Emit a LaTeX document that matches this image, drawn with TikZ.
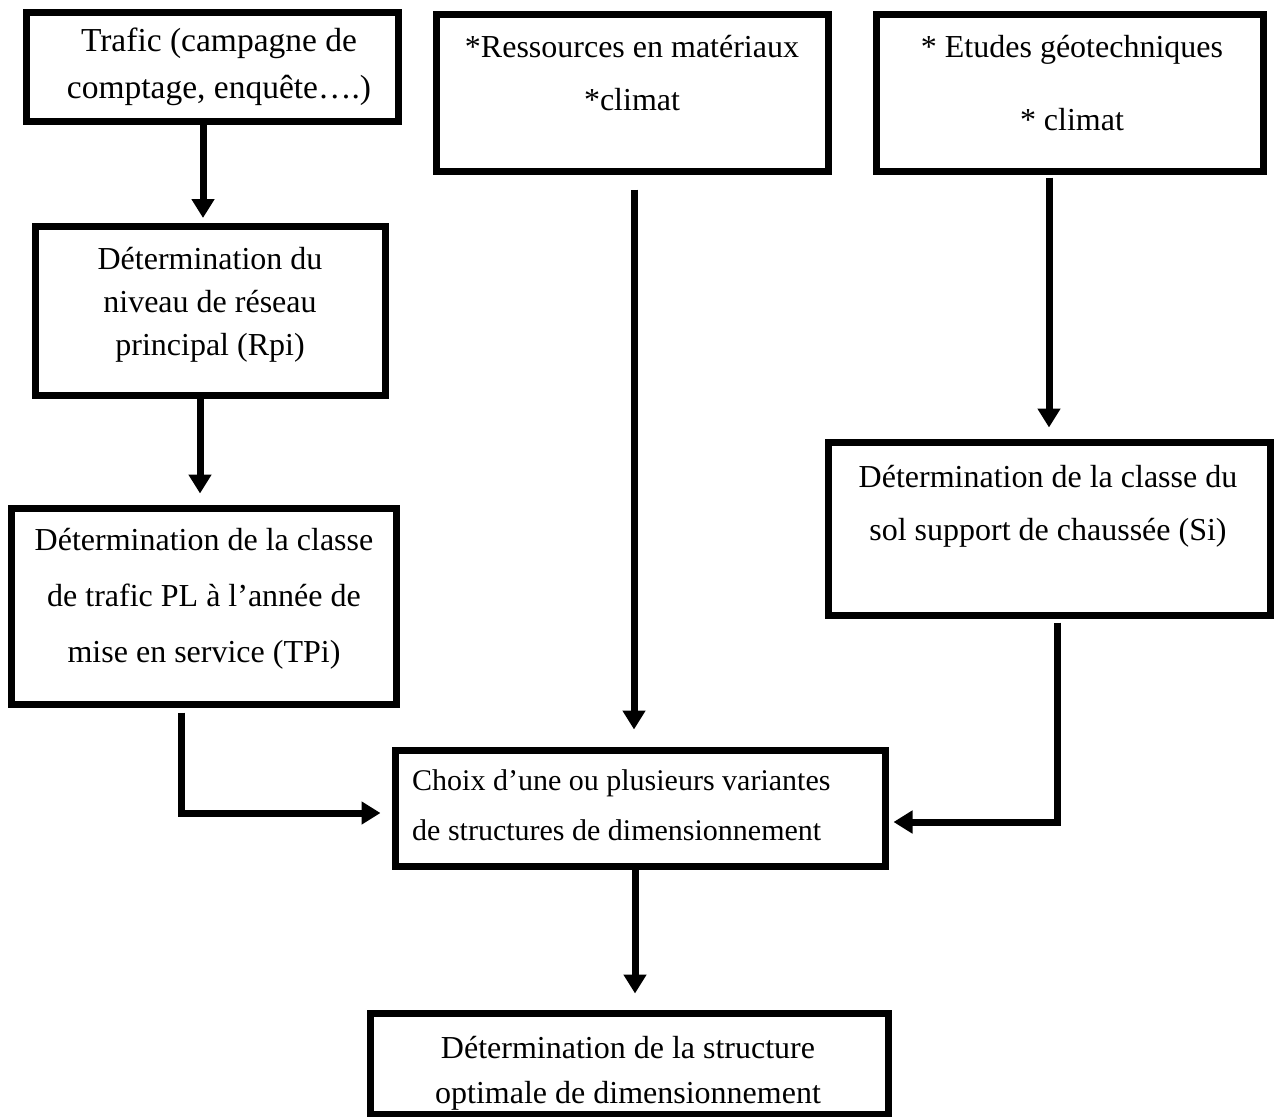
\documentclass[tikz,border=0pt]{standalone}
\usepackage{fontspec}
\setmainfont{Liberation Serif}
\usetikzlibrary{arrows.meta,fit}
\begin{document}
\begin{tikzpicture}[x=1pt,y=-1pt,
  box/.style={draw, line width=7pt, inner sep=0pt, line join=miter},
  txt/.style={anchor=base, align=center, inner sep=0pt, font=\fontsize{32}{#1}\selectfont},
  arr/.style={line width=7pt, line join=miter, -{Triangle[width=22pt,length=19pt]}}]
\useasboundingbox (0,0) rectangle (1278,1117);
% boxes
\node[box, fit={(26,12) (398,121)}] (trafic) {};
\node[box, fit={(436,14) (828,171)}] (ress) {};
\node[box, fit={(876,14) (1263,171)}] (etud) {};
\node[box, fit={(35,226) (385,395)}] (niv) {};
\node[box, fit={(11,508) (396,704)}] (cltr) {};
\node[box, fit={(828,442) (1270,615)}] (sol) {};
\node[box, fit={(395,750) (885,866)}] (choix) {};
\node[box, fit={(370,1013) (888,1114)}] (final) {};
% texts (y = baseline of the last line)
\node[anchor=base, align=center, inner sep=0pt, font=\fontsize{33.5}{47}\selectfont] (trafic-t) at (219,98) {Trafic (campagne de\\comptage, enquête….)};
\node[txt=53] (ress-t) at (632,110) {*Ressources en matériaux\\*climat};
\node[txt=73] (etud-t) at (1072,130) {* Etudes géotechniques\\* climat};
\node[txt=43] (niv-t) at (210,355) {Détermination du\\niveau de réseau\\principal (Rpi)};
\node[txt=56] (cltr-t) at (204,662) {Détermination de la classe\\de trafic PL à l’année de\\mise en service (TPi)};
\node[txt=53] (sol-t) at (1048,540) {Détermination de la classe du\\sol support de chaussée (Si)};
\node[anchor=base west, align=left, inner sep=0pt, font=\fontsize{30}{50}\selectfont] (choix-t) at (412,840) {Choix d’une ou plusieurs variantes\\de structures de dimensionnement};
\node[txt=45] (final-t) at (628,1103) {Détermination de la structure\\optimale de dimensionnement};
% helper coordinates
\coordinate (c1) at (203,0);
\coordinate (c2) at (200,0);
\coordinate (c3) at (634,0);
\coordinate (c4) at (1049,0);
\coordinate (c5) at (181,0);
\coordinate (r5) at (0,813);
\coordinate (c6) at (1057,0);
\coordinate (r6) at (0,822);
\coordinate (c7) at (635,0);
% connectors
\draw[arr, shorten >=4.5pt] (trafic.south -| c1) -- (niv.north -| c1);
\draw[arr, shorten >=11pt] (niv.south -| c2) -- (cltr.north -| c2);
\draw[arr, shorten <=15pt, shorten >=17pt] (ress.south -| c3) -- (choix.north -| c3);
\draw[arr, shorten <=3pt, shorten >=11pt] (etud.south -| c4) -- (sol.north -| c4);
\draw[arr, shorten <=5pt, shorten >=11pt] (cltr.south -| c5) |- (choix.west |- r5);
\draw[arr, shorten <=4pt, shorten >=5pt] (sol.south -| c6) |- (choix.east |- r6);
\draw[arr, shorten >=16pt] (choix.south -| c7) -- (final.north -| c7);
\end{tikzpicture}
\end{document}
